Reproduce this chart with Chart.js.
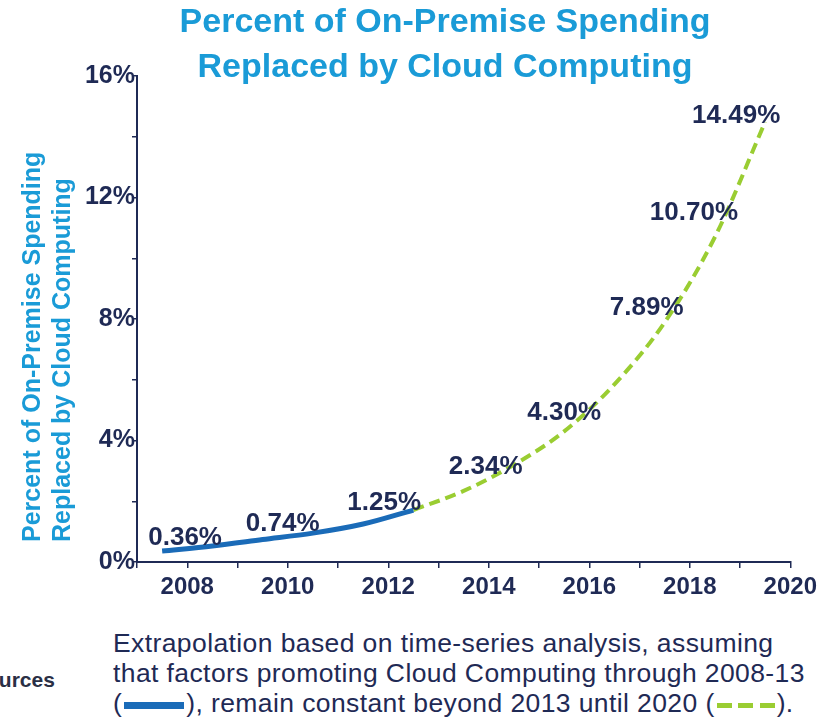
<!DOCTYPE html>
<html>
<head>
<meta charset="utf-8">
<script src="https://cdn.jsdelivr.net/npm/chart.js@4.4.1/dist/chart.umd.min.js"></script>
<style>
  html, body { margin: 0; padding: 0; background: #fff; overflow: hidden; }
  #wrap { position: relative; width: 822px; height: 610px; }
  #foot {
    position: absolute; left: 113px; top: 628px; width: 709px;
    font-family: "Liberation Sans", Arial, sans-serif; font-size: 26.5px;
    letter-spacing: 0.4px; line-height: 30px; color: #1f2a55; white-space: nowrap;
  }
  #src {
    position: absolute; left: -28px; top: 668px;
    font-family: "Liberation Sans", Arial, sans-serif; font-size: 21px;
    font-weight: bold; color: #2a2f45;
  }
  .solid { display: inline-block; width: 60px; height: 7px; background: #1a6bb8; vertical-align: middle; margin: 0 2px; }
  .dash {
    display: inline-block; width: 58px; height: 5px; vertical-align: middle; margin: 0 2px;
    background: repeating-linear-gradient(to right, #9acd32 0 15px, transparent 15px 21.5px);
  }
</style>
</head>
<body>
<div id="wrap"><canvas id="chart"></canvas></div>
<div id="src">Sources</div>
<div id="foot">Extrapolation based on time-series analysis, assuming<br>that factors promoting Cloud Computing through 2008-13<br>(<span class="solid"></span>), remain constant beyond 2013 until 2020 (<span class="dash"></span>).</div>
<script>
// --- datos ---
const years = [2008, 2009, 2010, 2011, 2012, 2013, 2014, 2015, 2016, 2017, 2018, 2019, 2020];
const actual = [0.36, 0.53, 0.74, 0.95, 1.25, 1.71, null, null, null, null, null, null, null];
const projected = [null, null, null, null, null, 1.71, 2.34, 3.20, 4.30, 5.85, 7.89, 10.70, 14.49];
const labelYears = [2008, 2010, 2012, 2014, 2016, 2018, 2019, 2020];
const yTicks = [0, 4, 8, 12, 16];
const titleLines = ['Percent of On-Premise Spending', 'Replaced by Cloud Computing'];
const yTitleLines = ['Percent of On-Premise Spending', 'Replaced by Cloud Computing'];

// label offsets from the point, in px
const labelOffsets = [[23, -13], [20, -16], [21, -21], [22, -24], [0, -19], [-18, -15], [-21, -24], [-29, -6]];

const FONT = '"Liberation Sans", Arial, sans-serif';
const NAVY = '#1f2a55';
const CYAN = '#1a9bd7';

// points sit at mid-year, ticks mark the start of each year
const toPoints = arr => years.map((y, i) => ({ x: y - 0.5, y: arr[i] }));

const textPlugin = {
  id: 'texts',
  afterDraw(chart) {
    const ctx = chart.ctx;
    const xs = chart.scales.x, ys = chart.scales.y;
    const area = chart.chartArea;
    ctx.save();

    // titulo
    ctx.fillStyle = CYAN;
    ctx.font = 'bold 34px ' + FONT;
    ctx.textAlign = 'center';
    ctx.textBaseline = 'middle';
    titleLines.forEach((t, i) => ctx.fillText(t, 445, 23 + i * 45));

    // titulo eje y
    ctx.font = 'bold 25px ' + FONT;
    ctx.textAlign = 'left';
    yTitleLines.forEach((t, i) => {
      ctx.save();
      ctx.translate(33 + i * 30, area.bottom - 20);
      ctx.rotate(-Math.PI / 2);
      ctx.fillText(t, 0, 0);
      ctx.restore();
    });

    // etiquetas de datos
    ctx.fillStyle = NAVY;
    ctx.font = 'bold 26px ' + FONT;
    ctx.textAlign = 'center';
    labelYears.forEach((yr, i) => {
      const idx = years.indexOf(yr);
      const v = actual[idx] != null && yr <= 2012 ? actual[idx] : projected[idx];
      const px = xs.getPixelForValue(yr - 0.5) + labelOffsets[i][0];
      const py = ys.getPixelForValue(v) + labelOffsets[i][1];
      ctx.fillText(v.toFixed(2) + '%', px, py);
    });
    ctx.restore();
  }
};

new Chart(document.getElementById('chart').getContext('2d'), {
  type: 'line',
  data: {
    datasets: [{
      label: '2008-13',
      data: toPoints(actual),
      borderColor: '#1a6bb8',
      borderWidth: 5,
      pointRadius: 0,
      tension: 0.4,
      cubicInterpolationMode: 'monotone',
      spanGaps: false
    }, {
      label: '2013-20',
      data: toPoints(projected),
      borderColor: '#9acd32',
      borderWidth: 4,
      borderDash: [11, 6],
      pointRadius: 0,
      cubicInterpolationMode: 'monotone',
      spanGaps: false
    }]
  },
  options: {
    responsive: true,
    maintainAspectRatio: false,
    animation: false,
    layout: { padding: { left: 0, right: 27, top: 76, bottom: 0 } },
    plugins: {
      legend: { display: false },
      tooltip: { enabled: false },
      title: { display: false }
    },
    scales: {
      x: {
        type: 'linear',
        min: 2007,
        max: 2020,
        afterFit: s => { s.height = 48; },
        border: { display: true, color: NAVY, width: 2 },
        grid: { drawOnChartArea: false, drawTicks: true, tickLength: 6, color: NAVY, lineWidth: 1.5 },
        ticks: {
          stepSize: 1,
          autoSkip: false,
          maxRotation: 0,
          padding: 5,
          color: NAVY,
          font: { family: FONT, size: 24, weight: 'bold' },
          callback: v => (v % 2 === 0 ? String(v) : '')
        }
      },
      y: {
        min: 0,
        max: 16,
        afterFit: s => { s.width = 137; },
        border: { display: true, color: NAVY, width: 2 },
        grid: { drawOnChartArea: false, drawTicks: true, tickLength: 5, color: NAVY, lineWidth: 1.5 },
        ticks: {
          stepSize: 2,
          autoSkip: false,
          padding: -3,
          color: NAVY,
          font: { family: FONT, size: 25, weight: 'bold' },
          callback: v => (yTicks.includes(v) ? v + '%' : '')
        }
      }
    }
  },
  plugins: [textPlugin]
});
</script>
</body>
</html>
